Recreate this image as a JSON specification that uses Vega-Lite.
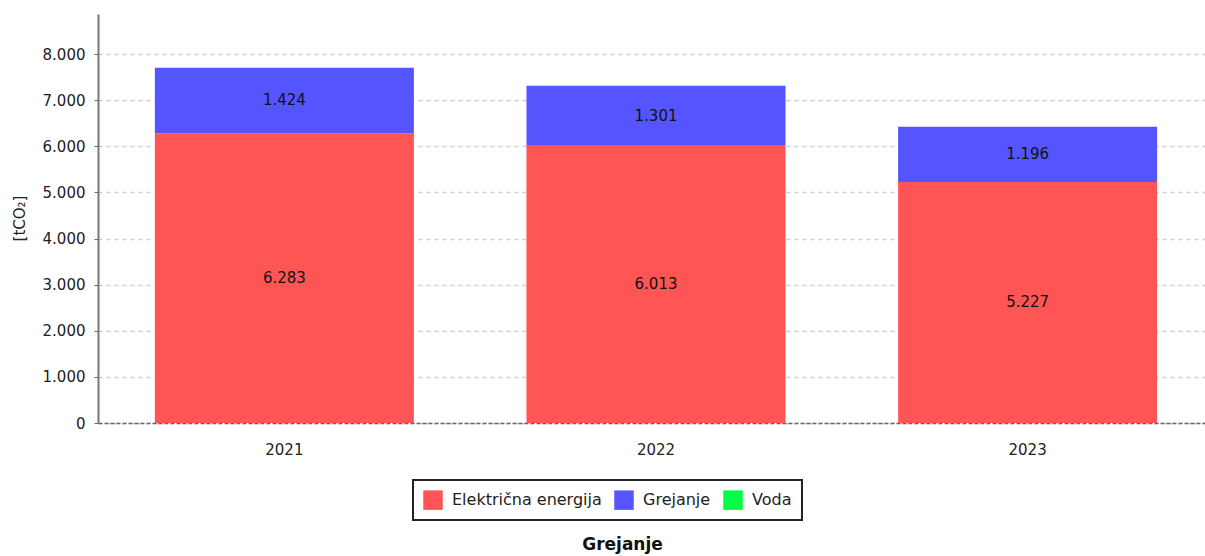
{
  "$schema": "https://vega.github.io/schema/vega-lite/v6.json",
  "width": 1116,
  "height": 409,
  "autosize": {"type": "none"},
  "padding": {"left": 98, "top": 14, "right": 0, "bottom": 133},
  "background": "white",
  "config": {
    "locale": {"number": {"decimal": ",", "thousands": ".", "grouping": [3], "currency": ["", ""]}},
    "font": "DejaVu Sans",
    "view": {"stroke": null},
    "legend": {"strokeWidth": 2}
  },
  "data": {
    "values": [
      {"godina": "2021", "izvor": "Električna energija", "vrednost": 6283, "red": 1},
      {"godina": "2021", "izvor": "Grejanje", "vrednost": 1424, "red": 2},
      {"godina": "2021", "izvor": "Voda", "vrednost": 0, "red": 3},
      {"godina": "2022", "izvor": "Električna energija", "vrednost": 6013, "red": 1},
      {"godina": "2022", "izvor": "Grejanje", "vrednost": 1301, "red": 2},
      {"godina": "2022", "izvor": "Voda", "vrednost": 0, "red": 3},
      {"godina": "2023", "izvor": "Električna energija", "vrednost": 5227, "red": 1},
      {"godina": "2023", "izvor": "Grejanje", "vrednost": 1196, "red": 2},
      {"godina": "2023", "izvor": "Voda", "vrednost": 0, "red": 3}
    ]
  },
  "transform": [
    {"stack": "vrednost", "groupby": ["godina"], "sort": [{"field": "red"}], "as": ["y0", "y1"]},
    {"calculate": "(datum.y0 + datum.y1) / 2", "as": "ymid"}
  ],
  "encoding": {
    "x": {
      "field": "godina", "type": "nominal",
      "scale": {"paddingInner": 0.303, "paddingOuter": 0.153},
      "axis": {
        "title": "Grejanje", "titleFontWeight": "bold", "titleFontSize": 17, "titleColor": "#111",
        "titleX": 524, "titleY": 126, "titleAnchor": "middle", "titleAlign": "center", "titleBaseline": "alphabetic",
        "labelAngle": 0, "labelFontSize": 15, "labelColor": "#222", "labelPadding": 19,
        "ticks": false, "domainColor": "#666", "domainDash": [4, 2], "domainWidth": 1.5
      }
    }
  },
  "layer": [
    {
      "mark": {"type": "bar"},
      "encoding": {
        "y": {
          "field": "y0", "type": "quantitative",
          "scale": {"domain": [0, 8870], "nice": false},
          "axis": {
            "title": "[tCO₂]", "titleFontSize": 15, "titleFontWeight": "normal", "titleColor": "#222", "titleX": -71, "titleY": 204,
            "values": [0, 1000, 2000, 3000, 4000, 5000, 6000, 7000, 8000],
            "format": ",d", "labelFontSize": 15, "labelColor": "#222", "labelPadding": 9,
            "tickSize": 4, "tickColor": "#666",
            "domainColor": "#777", "domainWidth": 2,
            "grid": true, "gridDash": [4, 4], "gridColor": "#cfcfcf", "gridWidth": 1.5
          }
        },
        "y2": {"field": "y1"},
        "color": {
          "field": "izvor", "type": "nominal",
          "scale": {"domain": ["Električna energija", "Grejanje", "Voda"], "range": ["#FF5555", "#5555FF", "#00FF44"]},
          "sort": null,
          "legend": {
            "orient": "none", "legendX": 315, "legendY": 466, "direction": "horizontal", "title": null,
            "strokeColor": "#222", "padding": 10, "fillColor": "white",
            "symbolType": "square", "symbolSize": 380, "symbolStrokeWidth": 0, "symbolOpacity": 1,
            "labelFontSize": 16, "labelColor": "#222", "columnPadding": 12, "labelOffset": 9
          }
        }
      }
    },
    {
      "transform": [{"filter": "datum.vrednost > 0"}],
      "mark": {"type": "text", "fontSize": 15, "color": "#111", "baseline": "middle"},
      "encoding": {
        "y": {"field": "ymid", "type": "quantitative"},
        "text": {"field": "vrednost", "type": "quantitative", "format": ",d"}
      }
    }
  ]
}
